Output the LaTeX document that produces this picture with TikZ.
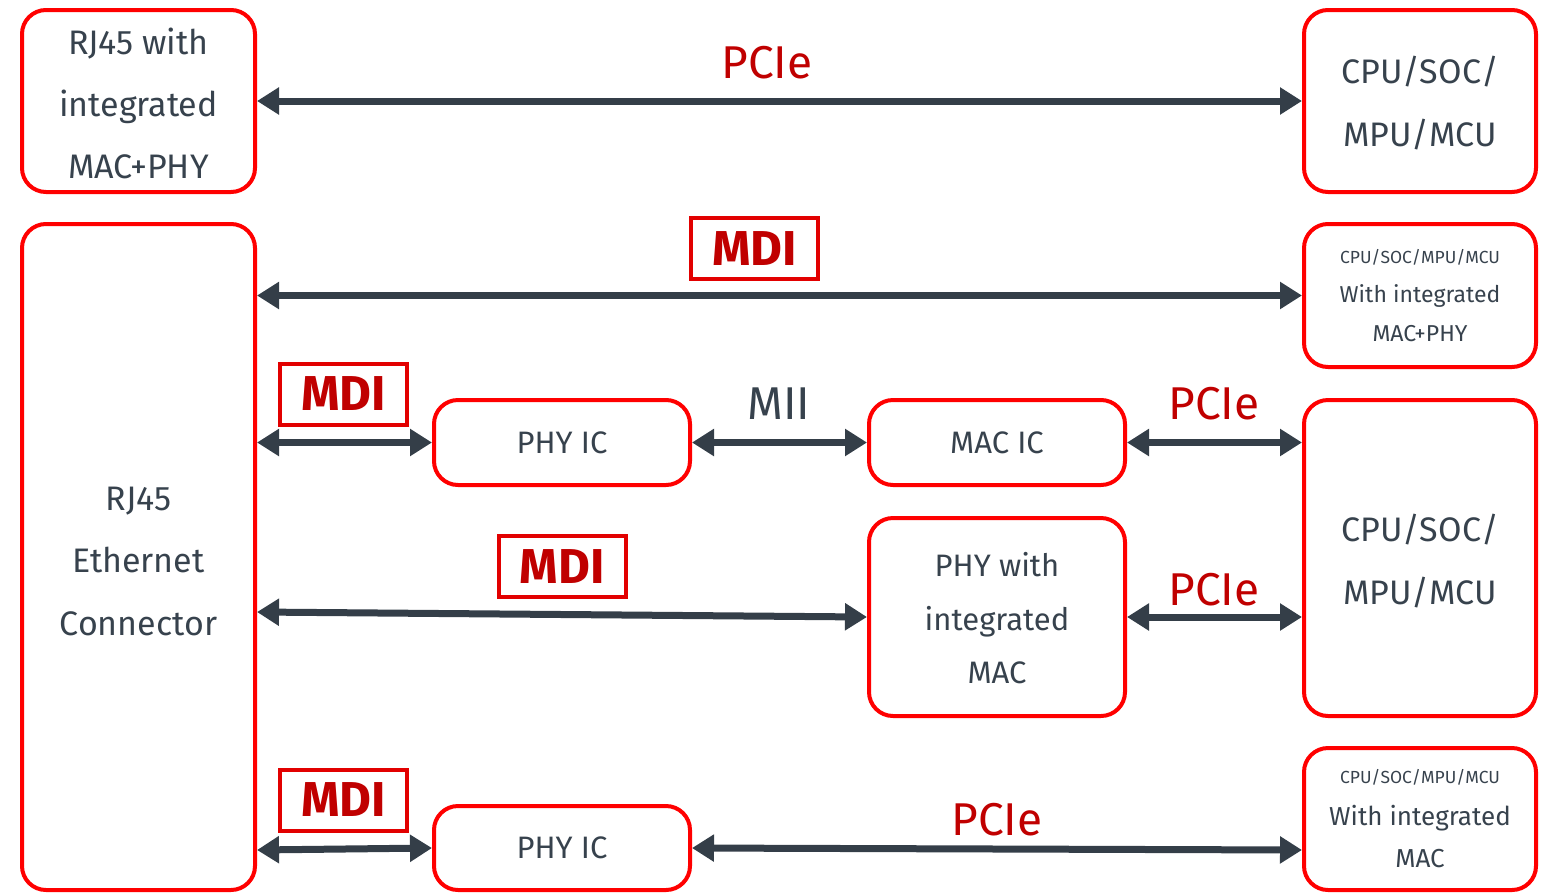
\documentclass[tikz,border=0pt]{standalone}
\usepackage{fontspec}
\setmainfont{Fira Sans}[BoldFont={Fira Sans Bold}]
\usetikzlibrary{arrows.meta,calc}
\definecolor{boxred}{RGB}{255,0,0}
\definecolor{lblred}{RGB}{192,0,0}
\definecolor{mdired}{RGB}{226,0,0}
\definecolor{txtgray}{RGB}{55,66,77}
\definecolor{arrgray}{RGB}{52,62,72}
\tikzset{
  x=1pt,y=-1pt,
  box/.style={draw=boxred,line width=4pt,rounded corners=24pt,align=center,text=txtgray,inner sep=0pt},
  boxtext/.style={align=center,text=txtgray,inner sep=0pt},
  mdibox/.style={draw=mdired,line width=4pt,text=lblred,inner sep=0pt,minimum width=127pt,minimum height=61pt,font=\fontsize{49}{49}\selectfont\bfseries},
  lbl/.style={text=lblred,font=\fontsize{46}{46}\selectfont,inner sep=0pt},
  conn/.style={draw=arrgray,line width=7pt,{Triangle[length=22pt,width=26pt]}-{Triangle[length=22pt,width=26pt]}},
}
\begin{document}
\begin{tikzpicture}
\useasboundingbox (0,0) rectangle (1547,892);
% boxes
\node[box,minimum width=233pt,minimum height=182pt,
  label={[boxtext,yshift=-2pt,font=\fontsize{34}{62}\selectfont]center:{RJ45 with\\integrated\\MAC+PHY}}] (a) at (138.5,101) {};
\node[box,minimum width=232pt,minimum height=182pt,
  label={[boxtext,yshift=-2pt,font=\fontsize{34}{63}\selectfont]center:{CPU/SOC/\\MPU/MCU}}] (b) at (1420,101) {};
\node[box,minimum width=233pt,minimum height=666pt,
  label={[boxtext,yshift=-4pt,font=\fontsize{34}{62.5}\selectfont]center:{RJ45\\Ethernet\\Connector}}] (rj) at (138.5,557) {};
\node[box,minimum width=232pt,minimum height=143pt,font=\fontsize{23}{39}\selectfont] (c) at (1420,295.5) {{\fontsize{17.5}{39}\selectfont CPU/SOC/MPU/MCU}\\With integrated\\MAC+PHY};
\node[box,minimum width=256pt,minimum height=85pt,font=\fontsize{31}{31}\selectfont] (phya) at (562,442.5) {PHY IC};
\node[box,minimum width=256pt,minimum height=85pt,font=\fontsize{31}{31}\selectfont] (mac) at (997,442.5) {MAC IC};
\node[box,minimum width=232pt,minimum height=316pt,
  label={[boxtext,yshift=-3pt,font=\fontsize{34}{63}\selectfont]center:{CPU/SOC/\\MPU/MCU}}] (cpu) at (1420,558) {};
\node[box,minimum width=256pt,minimum height=198pt,
  label={[boxtext,yshift=-1.5pt,font=\fontsize{31}{53.5}\selectfont]center:{PHY with\\integrated\\MAC}}] (phymac) at (997,617) {};
\node[box,minimum width=256pt,minimum height=84pt,font=\fontsize{31}{31}\selectfont] (phyb) at (562,848) {PHY IC};
\node[box,minimum width=232pt,minimum height=142pt,font=\fontsize{26}{42}\selectfont] (d) at (1420,819) {{\fontsize{17.5}{42}\selectfont CPU/SOC/MPU/MCU}\\With integrated\\MAC};
% labels
\node[lbl] (l1) at (767,63) {PCIe};
\node[mdibox] (m2) at (754.5,248.5) {MDI};
\node[mdibox] (m3) at (343.5,394) {MDI};
\node[lbl,text=txtgray] (mii) at (779,404) {MII};
\node[lbl] (l3) at (1214,404) {PCIe};
\node[mdibox] (m4) at (562,566.5) {MDI};
\node[lbl] (l4) at (1214,590) {PCIe};
\node[mdibox] (m5) at (343.5,800) {MDI};
\node[lbl] (l5) at (997,820) {PCIe};
% connectors
\coordinate (r2) at (rj.east |- c.west);
\coordinate (r3) at (rj.east |- phya.west);
\coordinate (r4) at (rj.east |- 0,612);
\coordinate (r5) at ($(rj.east |- phyb.west)+(0,2)$);
\coordinate (d5) at ($(d.west |- phyb.east)+(0,2)$);
\coordinate (c3) at (cpu.west |- mac.east);
\coordinate (c4) at (cpu.west |- phymac.east);
\draw[conn] (a.east) -- (b.west);
\draw[conn] (r2) -- (c.west);
\draw[conn] (r3) -- (phya.west);
\draw[conn] (phya.east) -- (mac.west);
\draw[conn] (mac.east) -- (c3);
\draw[conn] (r4) -- (phymac.west);
\draw[conn] (phymac.east) -- (c4);
\draw[conn] (r5) -- (phyb.west);
\draw[conn] (phyb.east) -- (d5);
\end{tikzpicture}
\end{document}
